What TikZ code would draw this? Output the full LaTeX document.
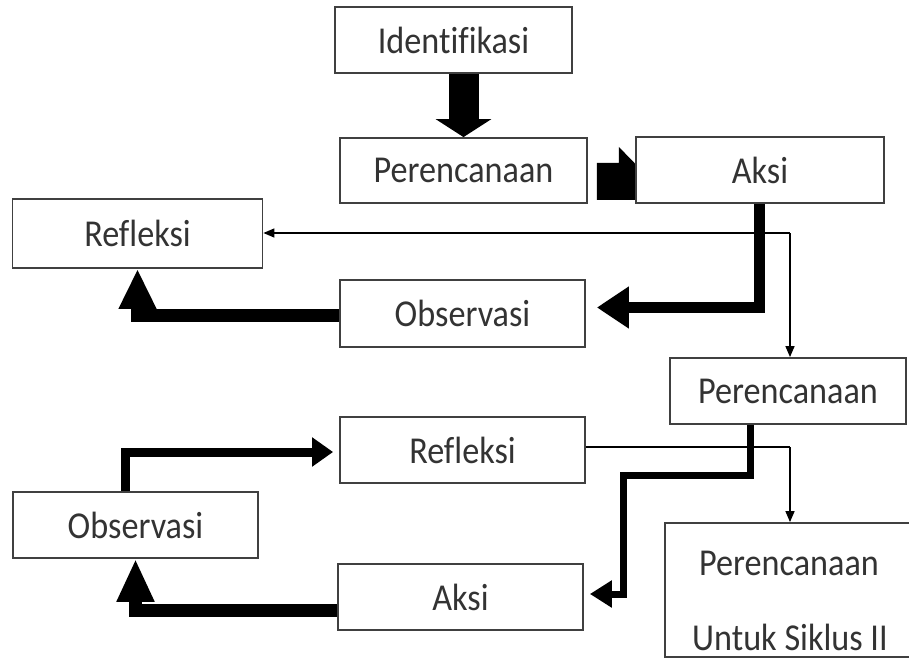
\documentclass[tikz,border=0pt]{standalone}
\usepackage{fontspec}
\setmainfont[FakeStretch=0.9,Ligatures=NoCommon]{Carlito}
\usetikzlibrary{arrows.meta,calc,backgrounds}
\begin{document}
\begin{tikzpicture}[x=1pt,y=-1pt,
  box/.style={draw=black!75,line width=1.8pt,fill=white,inner sep=0pt,
    font=\fontsize{38pt}{44pt}\selectfont,text=black!80},
  txt/.style={inner sep=0pt,font=\fontsize{38pt}{44pt}\selectfont,text=black!80},
  fatline/.style={draw=black,line join=miter,line cap=butt},
  thinarrow/.style={draw=black,line width=1.4pt,-{Triangle[length=11pt,width=9pt]}}
]
\useasboundingbox (0,0) rectangle (909,660);
\clip (0,0) rectangle (909,660);

% boxes
\node[box,minimum width=237pt,minimum height=66pt] (ident) at (453.5,40) {Identifikasi};
\node[box,minimum width=247pt,minimum height=65pt] (per1) at (463.5,170.5) {Perencanaan};
\node[box,minimum width=248pt,minimum height=66pt] (aksi1) at (760,170) {Aksi};
\node[box,minimum width=250pt,minimum height=69pt] (ref1) at (137.5,233.5) {Refleksi};
\node[box,minimum width=245pt,minimum height=67pt] (obs1) at (462.5,313.5) {Observasi};
\node[box,minimum width=236pt,minimum height=66pt] (per2) at (788,391) {Perencanaan};
\node[box,minimum width=245pt,minimum height=66pt] (ref2) at (462.5,450) {Refleksi};
\node[box,minimum width=245pt,minimum height=66pt] (obs2) at (135.5,525) {Observasi};
\node[box,minimum width=245pt,minimum height=66pt] (aksi2) at (460.5,597) {Aksi};
\node[box,minimum width=300pt,minimum height=134pt] (per3) at (815,590) {};
\node[txt] (per3a) at (789,563) {Perencanaan};
\node[txt] (per3b) at (790,637) {Untuk Siklus II};

% partly hidden arrow between Perencanaan and Aksi
\begin{scope}[on background layer]
\fill[black] ($(per1.east)+(9,-7.5)$) -- ($(per1.east)+(31,-7.5)$) -- ($(per1.east)+(31,-23.5)$)
  -- ($(aksi1.west)+(14,8)$) -- ($(aksi1.west)+(14,30)$) -- ($(per1.east)+(9,29.5)$) -- cycle;
\end{scope}

% Identifikasi -> Perencanaan
\draw[fatline,line width=30pt,-{Triangle[length=18pt,width=55pt]}]
  (per1.north |- ident.south) -- (per1.north);

% Aksi -> Observasi
\draw[fatline,line width=11pt,-{Triangle[length=32pt,width=40pt]}]
  ($(aksi1.south)+(-1,0)$) |- ($(obs1.east)+(11,-6)$);

% Observasi -> Refleksi
\draw[fatline,line width=13pt,-{Triangle[length=40pt,width=35pt]}]
  ($(obs1.west)+(0,1.5)$) -| (ref1.south);

% thin connectors from junction
\coordinate (j1) at (790,233);
\draw[thinarrow] (j1) -- (j1 -| ref1.east);
\draw[thinarrow] (j1) -- (j1 |- per2.north);

% Perencanaan (2) -> Aksi (2)
\coordinate (c1) at (623,475);
\draw[fatline,line width=7pt,-{Triangle[length=22pt,width=26pt]}]
  ($(per2.south west)+(81,0)$) |- (c1) |- ($(aksi2.east)+(6,-3)$);

% Refleksi (2) -> Perencanaan untuk siklus II
\coordinate (j2) at (790,447);
\draw[draw=black,line width=1.4pt] (ref2.east |- j2) -- (j2);
\draw[thinarrow] (j2) -- (j2 |- per3.north);

% Observasi (2) -> Refleksi (2)
\draw[fatline,line width=9pt,-{Triangle[length=21pt,width=28pt]}]
  ($(obs2.north)+(-10,0)$) |- ($(ref2.west)+(-6,2)$);

% Aksi (2) -> Observasi (2)
\draw[fatline,line width=13pt,-{Triangle[length=43pt,width=35pt]}]
  ($(aksi2.west)+(0,13)$) -| (obs2.south);
\end{tikzpicture}
\end{document}
